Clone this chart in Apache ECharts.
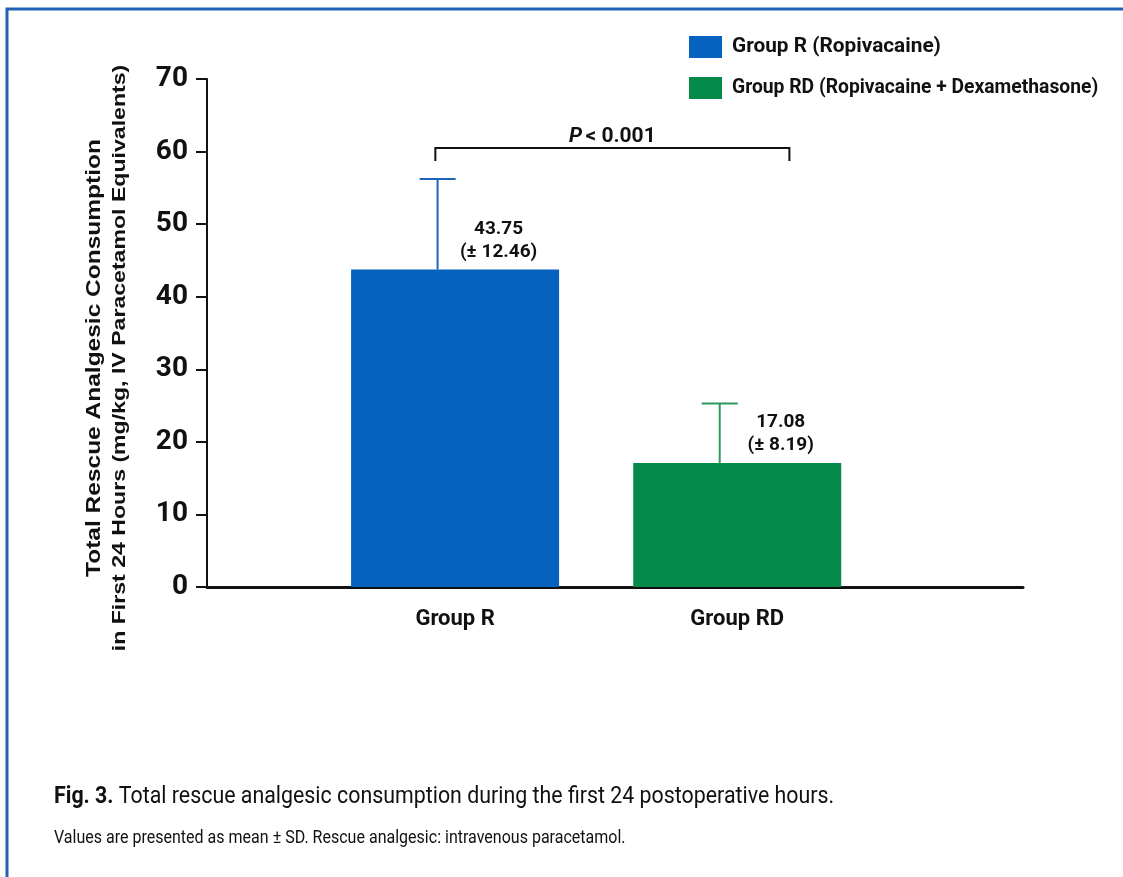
<!DOCTYPE html>
<html>
<head>
<meta charset="utf-8">
<title>Rescue analgesic consumption</title>
<script src="https://cdn.jsdelivr.net/npm/echarts@6/dist/echarts.min.js"></script>
<style>
  html, body { margin: 0; padding: 0; background: #ffffff; }
  #chart { width: 1123px; height: 877px; }
</style>
</head>
<body>
<div id="chart"></div>
<script>
// Group means and standard deviations (mg/kg, IV paracetamol equivalents)
const categories = ['Group R', 'Group RD'];
const seriesNames = ['Group R (Ropivacaine)', 'Group RD (Ropivacaine + Dexamethasone)'];
const positions = [1, 2];
const means = [43.75, 17.08];
const sds = [12.46, 8.19];
const colors = ['#0562be', '#058a4b'];
const errColors = ['#1f63bb', '#2d9a5c'];

// Value axis range and ticks
const yMin = 0, yMax = 70, yStep = 10;
// Horizontal placement scale for the two groups
const xMin = 0.1206, xMax = 3.013;

// Significance bracket between the groups
const pText = '< 0.001';
const bracketSpan = [0.93, 2.185];
const bracketY = 60.5;
const bracketDrop = 1.8;

const yTitle = ['Total Rescue Analgesic Consumption', 'in First 24 Hours (mg/kg, IV Paracetamol Equivalents)'];
const captionBold = 'Fig. 3.';
const captionText = ' Total rescue analgesic consumption during the first 24 postoperative hours.';
const noteText = 'Values are presented as mean \u00b1 SD. Rescue analgesic: intravenous paracetamol.';

const SANS = 'Roboto, "Noto Sans", sans-serif';
const ARIAL = '"Liberation Sans", Arial, sans-serif';

const chart = echarts.init(document.getElementById('chart'), null, { renderer: 'canvas' });

const barSeries = seriesNames.map((name, i) => ({
  name: name,
  type: 'bar',
  barWidth: 208,
  barGap: '-100%',
  itemStyle: { color: colors[i] },
  data: [[positions[i], means[i]]],
  z: 2
}));

const errData = means.map((m, i) => [positions[i], m, sds[i], i]);

chart.setOption({
  animation: false,
  backgroundColor: '#ffffff',
  grid: { left: 207, right: 100, top: 79, bottom: 290, containLabel: false },
  legend: {
    orient: 'vertical',
    left: 689,
    top: 36,
    padding: 0,
    itemWidth: 33,
    itemHeight: 22,
    itemGap: 19,
    icon: 'rect',
    data: seriesNames,
    selectedMode: false,
    formatter: name => (name === seriesNames[0] ? '{a|' : '{b|') + name + '}',
    textStyle: {
      fontFamily: SANS, fontWeight: 'bold', fontSize: 20, color: '#111', padding: [0, 0, 0, 5],
      rich: {
        a: { fontFamily: SANS, fontWeight: 'bold', fontSize: 20.8, color: '#111' },
        b: { fontFamily: SANS, fontWeight: 'bold', fontSize: 19.3, color: '#111' }
      }
    }
  },
  xAxis: {
    type: 'value',
    min: xMin,
    max: xMax,
    splitLine: { show: false },
    axisLine: { show: true, onZero: false, lineStyle: { color: '#111', width: 3 } },
    axisTick: { show: false },
    axisLabel: {
      customValues: positions,
      formatter: v => categories[positions.indexOf(Math.round(v))] || '',
      margin: 21,
      fontFamily: SANS, fontWeight: 'bold', fontSize: 22, color: '#111'
    }
  },
  yAxis: {
    type: 'value',
    min: yMin,
    max: yMax,
    interval: yStep,
    splitLine: { show: false },
    axisLine: { show: true, lineStyle: { color: '#111', width: 2 } },
    axisTick: { show: true, length: 11, lineStyle: { color: '#111', width: 2 } },
    axisLabel: { margin: 19, fontFamily: SANS, fontWeight: 'bold', fontSize: 28, color: '#111' }
  },
  series: barSeries.concat([
    {
      type: 'custom',
      name: 'errors',
      z: 3,
      data: errData,
      renderItem: function (params, api) {
        const x = api.value(0), m = api.value(1), s = api.value(2), idx = api.value(3);
        const base = api.coord([x, m]);
        const top = api.coord([x, m + s]);
        const ex = base[0] - 17.5;
        const cap = 18;
        const stroke = { stroke: errColors[idx], lineWidth: 2 };
        return {
          type: 'group',
          children: [
            { type: 'line', shape: { x1: ex, y1: base[1], x2: ex, y2: top[1] }, style: stroke },
            { type: 'line', shape: { x1: ex - cap, y1: top[1], x2: ex + cap, y2: top[1] }, style: stroke },
            {
              type: 'text',
              x: ex + 61,
              y: base[1] - 6,
              style: {
                text: m.toFixed(2) + '\n(\u00b1 ' + s.toFixed(2) + ')',
                align: 'center',
                verticalAlign: 'bottom',
                lineHeight: 23,
                fontFamily: SANS,
                fontWeight: 'bold',
                fontSize: 19,
                fill: '#111'
              }
            }
          ]
        };
      }
    },
    {
      type: 'custom',
      name: 'bracket',
      z: 3,
      data: [[bracketSpan[0], bracketSpan[1], bracketY, bracketDrop]],
      renderItem: function (params, api) {
        const a = api.coord([api.value(0), api.value(2)]);
        const b = api.coord([api.value(1), api.value(2)]);
        const d = api.coord([api.value(0), api.value(2) - api.value(3)]);
        const stroke = { stroke: '#111', lineWidth: 2, fill: null };
        return {
          type: 'group',
          children: [
            { type: 'polyline', shape: { points: [[a[0], d[1]], [a[0], a[1]], [b[0], b[1]], [b[0], d[1]]] }, style: stroke },
            {
              type: 'text',
              x: (a[0] + b[0]) / 2,
              y: a[1] - 1,
              style: {
                text: '{p|P} {t|' + pText + '}',
                align: 'center',
                verticalAlign: 'bottom',
                rich: {
                  p: { fontFamily: SANS, fontWeight: 'bold', fontStyle: 'italic', fontSize: 21, fill: '#111' },
                  t: { fontFamily: SANS, fontWeight: 'bold', fontSize: 21, fill: '#111' }
                }
              }
            }
          ]
        };
      }
    }
  ]),
  graphic: [
    {
      type: 'rect',
      shape: { x: 7, y: 9, width: 1140, height: 900 },
      style: { fill: null, stroke: '#1f62b3', lineWidth: 3 },
      silent: true
    },
    {
      type: 'text',
      x: 107,
      y: 358,
      rotation: Math.PI / 2,
      scaleY: 0.82,
      style: {
        text: '{a|' + yTitle[0] + '}\n{b|' + yTitle[1] + '}',
        align: 'center',
        verticalAlign: 'middle',
        rich: {
          a: { fontFamily: ARIAL, fontWeight: 'bold', fontSize: 24.5, lineHeight: 30, fill: '#111' },
          b: { fontFamily: ARIAL, fontWeight: 'bold', fontSize: 23.1, lineHeight: 30, fill: '#111' }
        }
      }
    },
    {
      type: 'text',
      x: 54,
      y: 797,
      scaleX: 0.89,
      style: {
        text: '{b|' + captionBold + '}{r|' + captionText + '}',
        verticalAlign: 'middle',
        rich: {
          b: { fontFamily: SANS, fontWeight: 'bold', fontSize: 24, fill: '#111' },
          r: { fontFamily: SANS, fontSize: 24, fill: '#111' }
        }
      }
    },
    {
      type: 'text',
      x: 54,
      y: 838,
      scaleX: 0.89,
      style: { text: noteText, verticalAlign: 'middle', fontFamily: SANS, fontSize: 18, fill: '#111' }
    }
  ]
});
</script>
</body>
</html>
